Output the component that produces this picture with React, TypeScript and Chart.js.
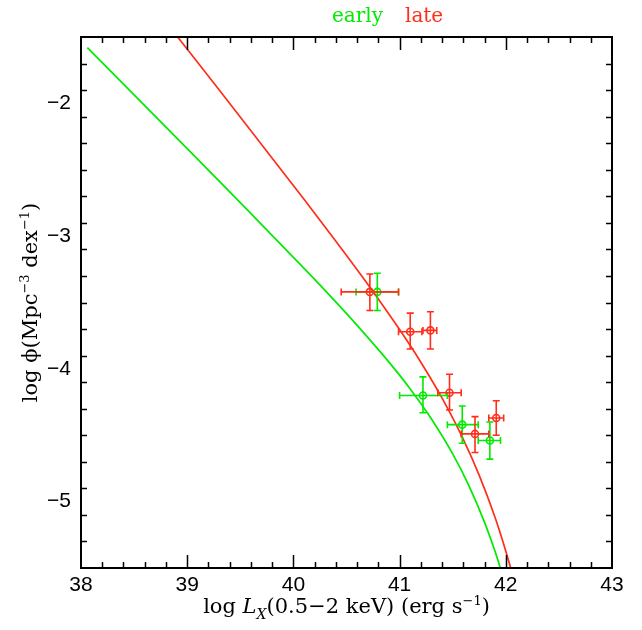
import React, { useEffect, useRef } from 'react';
import { Chart, registerables } from 'chart.js';

Chart.register(...registerables);

// ---- data ----
const earlyCurveX = [38.06, 38.5, 39.0, 39.5, 40.0, 40.3, 40.6, 40.9, 41.1, 41.3, 41.5, 41.65, 41.8, 41.9, 41.96];
const earlyCurveY = [-1.58, -1.936, -2.341, -2.747, -3.16, -3.411, -3.672, -3.949, -4.151, -4.377, -4.64, -4.875, -5.156, -5.378, -5.529];

const lateCurveX = [38.91, 39.3, 39.7, 40.1, 40.4, 40.7, 41.0, 41.2, 41.4, 41.6, 41.75, 41.9, 42.0, 42.06];
const lateCurveY = [-1.5, -1.898, -2.31, -2.723, -3.038, -3.362, -3.704, -3.95, -4.221, -4.531, -4.802, -5.122, -5.373, -5.54];

const earlyX = [40.79, 41.22, 41.59, 41.85];
const earlyY = [-3.42, -4.2, -4.42, -4.54];
const earlyXLo = [40.59, 41.0, 41.45, 41.74];
const earlyXHi = [40.99, 41.45, 41.74, 41.95];
const earlyYLo = [-3.56, -4.33, -4.56, -4.68];
const earlyYHi = [-3.28, -4.06, -4.28, -4.4];

const lateX = [40.72, 41.1, 41.29, 41.47, 41.71, 41.91];
const lateY = [-3.42, -3.72, -3.71, -4.18, -4.49, -4.37];
const lateXLo = [40.45, 40.99, 41.22, 41.36, 41.58, 41.84];
const lateXHi = [40.99, 41.21, 41.35, 41.58, 41.84, 41.98];
const lateYLo = [-3.56, -3.85, -3.85, -4.31, -4.63, -4.5];
const lateYHi = [-3.285, -3.58, -3.57, -4.04, -4.36, -4.24];

const xTicks = [38, 39, 40, 41, 42, 43];
const yTicks = [-5, -4, -3, -2];
const xMin = 38, xMax = 43, yMin = -5.5, yMax = -1.5;
const minorStep = 0.2;

const GREEN = 'rgb(0,235,0)';
const RED = 'rgb(255,45,25)';
const SERIF = "'DejaVu Serif'";
const SANS = "'Liberation Sans'";

type Seg = { t: string; italic?: boolean; dy?: number; scale?: number };

function drawRich(ctx: CanvasRenderingContext2D, segs: Seg[], cx: number, cy: number, size: number, family: string, color: string) {
  const fontFor = (s: Seg) => `${s.italic ? 'italic ' : ''}${Math.round(size * (s.scale || 1))}px ${family}`;
  let total = 0;
  for (const s of segs) { ctx.font = fontFor(s); total += ctx.measureText(s.t).width; }
  let x = cx - total / 2;
  ctx.fillStyle = color;
  ctx.textAlign = 'left';
  ctx.textBaseline = 'alphabetic';
  for (const s of segs) {
    ctx.font = fontFor(s);
    ctx.fillText(s.t, x, cy + (s.dy || 0) * size);
    x += ctx.measureText(s.t).width;
  }
}

const overlay = {
  id: 'overlay',
  afterDatasetsDraw(chart: any) {
    const ctx: CanvasRenderingContext2D = chart.ctx;
    const xs = chart.scales.x;
    const ys = chart.scales.y;
    const { left, right, top, bottom } = chart.chartArea;

    const drawErr = (X: number[], Y: number[], XL: number[], XH: number[], YL: number[], YH: number[], color: string) => {
      ctx.save();
      ctx.strokeStyle = color;
      ctx.lineWidth = 1.6;
      const cap = 3.5;
      for (let i = 0; i < X.length; i++) {
        const px = xs.getPixelForValue(X[i]);
        const py = ys.getPixelForValue(Y[i]);
        const xl = xs.getPixelForValue(XL[i]);
        const xh = xs.getPixelForValue(XH[i]);
        const yl = ys.getPixelForValue(YL[i]);
        const yh = ys.getPixelForValue(YH[i]);
        ctx.beginPath();
        ctx.moveTo(xl, py); ctx.lineTo(xh, py);
        ctx.moveTo(xl, py - cap); ctx.lineTo(xl, py + cap);
        ctx.moveTo(xh, py - cap); ctx.lineTo(xh, py + cap);
        ctx.moveTo(px, yl); ctx.lineTo(px, yh);
        ctx.moveTo(px - cap, yl); ctx.lineTo(px + cap, yl);
        ctx.moveTo(px - cap, yh); ctx.lineTo(px + cap, yh);
        ctx.stroke();
      }
      ctx.restore();
    };
    drawErr(earlyX, earlyY, earlyXLo, earlyXHi, earlyYLo, earlyYHi, GREEN);
    drawErr(lateX, lateY, lateXLo, lateXHi, lateYLo, lateYHi, RED);

    // frame and ticks
    ctx.save();
    ctx.strokeStyle = '#000';
    ctx.lineWidth = 2;
    ctx.strokeRect(left, top, right - left, bottom - top);
    ctx.lineWidth = 1.5;
    ctx.beginPath();
    const nx = Math.round((xMax - xMin) / minorStep);
    for (let k = 1; k < nx; k++) {
      const v = xMin + k * minorStep;
      const major = Math.abs(v - Math.round(v)) < 1e-6;
      const len = major ? 13 : 6;
      const p = Math.round(xs.getPixelForValue(v)) + 0.5;
      ctx.moveTo(p, bottom); ctx.lineTo(p, bottom - len);
      ctx.moveTo(p, top); ctx.lineTo(p, top + len);
    }
    const ny = Math.round((yMax - yMin) / minorStep);
    for (let k = 1; k < ny; k++) {
      const v = yMin + k * minorStep;
      const major = Math.abs(v - Math.round(v)) < 1e-6;
      const len = major ? 13 : 6;
      const p = Math.round(ys.getPixelForValue(v)) + 0.5;
      ctx.moveTo(left, p); ctx.lineTo(left + len, p);
      ctx.moveTo(right, p); ctx.lineTo(right - len, p);
    }
    ctx.stroke();
    ctx.restore();
  },
  afterDraw(chart: any) {
    const ctx: CanvasRenderingContext2D = chart.ctx;
    const { left, right, top, bottom } = chart.chartArea;
    const cx = (left + right) / 2;
    ctx.save();
    // top labels
    ctx.font = `20px ${SERIF}`;
    ctx.textBaseline = 'alphabetic';
    ctx.textAlign = 'left';
    ctx.fillStyle = GREEN;
    ctx.fillText('early', 332, 22);
    ctx.fillStyle = RED;
    ctx.fillText('late', 405, 22);

    // x title
    drawRich(ctx, [
      { t: 'log ' },
      { t: 'L', italic: true },
      { t: 'X', italic: true, scale: 0.65, dy: 0.28 },
      { t: '(0.5\u22122 keV) (erg s' },
      { t: '\u22121', scale: 0.6, dy: -0.4 },
      { t: ')' },
    ], cx, bottom + 45, 21, SERIF, '#000');

    // y title
    ctx.translate(37, (top + bottom) / 2);
    ctx.rotate(-Math.PI / 2);
    drawRich(ctx, [
      { t: 'log ' },
      { t: '\u03D5' },
      { t: '(Mpc' },
      { t: '\u22123', scale: 0.6, dy: -0.4 },
      { t: ' dex' },
      { t: '\u22121', scale: 0.6, dy: -0.4 },
      { t: ')' },
    ], 0, 0, 21, SERIF, '#000');
    ctx.restore();
  },
};

const toPts = (xs: number[], ys: number[]) => xs.map((x, i) => ({ x, y: ys[i] }));

export default function App() {
  const ref = useRef<HTMLCanvasElement | null>(null);
  useEffect(() => {
    if (!ref.current) return;
    const chart = new Chart(ref.current, {
      type: 'scatter',
      data: {
        datasets: [
          {
            type: 'line',
            data: toPts(earlyCurveX, earlyCurveY),
            borderColor: GREEN,
            borderWidth: 1.7,
            pointRadius: 0,
            fill: false,
            cubicInterpolationMode: 'monotone',
          } as any,
          {
            type: 'line',
            data: toPts(lateCurveX, lateCurveY),
            borderColor: RED,
            borderWidth: 1.7,
            pointRadius: 0,
            fill: false,
            cubicInterpolationMode: 'monotone',
          } as any,
          {
            type: 'scatter',
            data: toPts(earlyX, earlyY),
            borderColor: GREEN,
            backgroundColor: 'rgba(0,0,0,0)',
            pointRadius: 3.5,
            borderWidth: 1.6,
          },
          {
            type: 'scatter',
            data: toPts(lateX, lateY),
            borderColor: RED,
            backgroundColor: 'rgba(0,0,0,0)',
            pointRadius: 3.5,
            borderWidth: 1.6,
          },
        ],
      },
      options: {
        animation: false,
        responsive: false,
        devicePixelRatio: 1,
        layout: { padding: { top: 37, right: 30, left: 0, bottom: 0 } },
        plugins: { legend: { display: false }, tooltip: { enabled: false } },
        scales: {
          x: {
            type: 'linear',
            min: xMin,
            max: xMax,
            grid: { display: false, drawTicks: false },
            border: { display: false },
            afterBuildTicks: (s: any) => { s.ticks = xTicks.map((v) => ({ value: v })); },
            afterFit: (s: any) => { s.height = 62; },
            ticks: {
              font: { family: SANS, size: 21 },
              color: '#000',
              padding: 5,
              maxRotation: 0,
              autoSkip: false,
              callback: (v: any) => String(v),
            },
          },
          y: {
            type: 'linear',
            min: yMin,
            max: yMax,
            grid: { display: false, drawTicks: false },
            border: { display: false },
            afterBuildTicks: (s: any) => { s.ticks = yTicks.map((v) => ({ value: v })); },
            afterFit: (s: any) => { s.width = 81; },
            ticks: {
              font: { family: SANS, size: 21 },
              color: '#000',
              padding: 10,
              autoSkip: false,
              callback: (v: any) => '\u2212' + Math.abs(Number(v)),
            },
          },
        },
      } as any,
      plugins: [overlay],
    });
    return () => chart.destroy();
  }, []);
  return (
    <div style={{ position: 'fixed', left: 0, top: 0, width: 642, height: 630, background: '#fff' }}>
      <canvas ref={ref} width={642} height={630} style={{ display: 'block', width: 642, height: 630 }} />
    </div>
  );
}
